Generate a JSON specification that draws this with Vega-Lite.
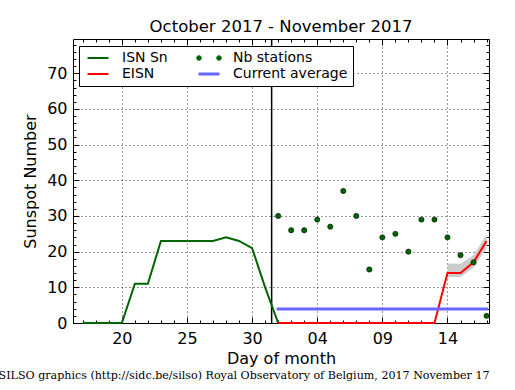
{
  "$schema": "https://vega.github.io/schema/vega-lite/v6.json",
  "width": 416,
  "height": 284,
  "autosize": {"type": "none"},
  "padding": {"left": 73, "top": 39, "right": 26, "bottom": 67},
  "background": "white",
  "title": {"text": "October 2017 - November 2017", "font": "DejaVu Sans", "fontSize": 16.5, "fontWeight": "normal", "color": "black", "offset": 2.5},
  "config": {
    "view": {"stroke": "black", "strokeWidth": 1},
    "axis": {"labelFont": "DejaVu Sans", "titleFont": "DejaVu Sans", "labelColor": "black", "titleColor": "black", "labelFontSize": 16, "titleFontSize": 16, "titleFontWeight": "normal", "domain": false, "tickColor": "black", "tickWidth": 1, "gridColor": "black", "gridDash": [1, 3], "gridOpacity": 1, "gridWidth": 0.8}
  },
  "datasets": {
    "isn": [
      {"date": "2017-10-17", "series": "ISN Sn", "value": 0},
      {"date": "2017-10-18", "series": "ISN Sn", "value": 0},
      {"date": "2017-10-19", "series": "ISN Sn", "value": 0},
      {"date": "2017-10-20", "series": "ISN Sn", "value": 0},
      {"date": "2017-10-21", "series": "ISN Sn", "value": 11},
      {"date": "2017-10-22", "series": "ISN Sn", "value": 11},
      {"date": "2017-10-23", "series": "ISN Sn", "value": 23},
      {"date": "2017-10-24", "series": "ISN Sn", "value": 23},
      {"date": "2017-10-25", "series": "ISN Sn", "value": 23},
      {"date": "2017-10-26", "series": "ISN Sn", "value": 23},
      {"date": "2017-10-27", "series": "ISN Sn", "value": 23},
      {"date": "2017-10-28", "series": "ISN Sn", "value": 24},
      {"date": "2017-10-29", "series": "ISN Sn", "value": 23},
      {"date": "2017-10-30", "series": "ISN Sn", "value": 21},
      {"date": "2017-10-31", "series": "ISN Sn", "value": 10},
      {"date": "2017-11-01", "series": "ISN Sn", "value": 0}
    ],
    "eisn": [
      {"date": "2017-11-01", "series": "EISN", "value": 0},
      {"date": "2017-11-02", "series": "EISN", "value": 0},
      {"date": "2017-11-03", "series": "EISN", "value": 0},
      {"date": "2017-11-04", "series": "EISN", "value": 0},
      {"date": "2017-11-05", "series": "EISN", "value": 0},
      {"date": "2017-11-06", "series": "EISN", "value": 0},
      {"date": "2017-11-07", "series": "EISN", "value": 0},
      {"date": "2017-11-08", "series": "EISN", "value": 0},
      {"date": "2017-11-09", "series": "EISN", "value": 0},
      {"date": "2017-11-10", "series": "EISN", "value": 0},
      {"date": "2017-11-11", "series": "EISN", "value": 0},
      {"date": "2017-11-12", "series": "EISN", "value": 0},
      {"date": "2017-11-13", "series": "EISN", "value": 0},
      {"date": "2017-11-14", "series": "EISN", "value": 14},
      {"date": "2017-11-15", "series": "EISN", "value": 14},
      {"date": "2017-11-16", "series": "EISN", "value": 17},
      {"date": "2017-11-17", "series": "EISN", "value": 23}
    ],
    "band": [
      {"date": "2017-11-14", "low": 12.9, "high": 16.7},
      {"date": "2017-11-15", "low": 12.9, "high": 16.6},
      {"date": "2017-11-16", "low": 15.5, "high": 19.0},
      {"date": "2017-11-17", "low": 20.9, "high": 24.8}
    ],
    "stations": [
      {"date": "2017-11-01", "series": "Nb stations", "value": 30},
      {"date": "2017-11-02", "series": "Nb stations", "value": 26},
      {"date": "2017-11-03", "series": "Nb stations", "value": 26},
      {"date": "2017-11-04", "series": "Nb stations", "value": 29},
      {"date": "2017-11-05", "series": "Nb stations", "value": 27},
      {"date": "2017-11-06", "series": "Nb stations", "value": 37},
      {"date": "2017-11-07", "series": "Nb stations", "value": 30},
      {"date": "2017-11-08", "series": "Nb stations", "value": 15},
      {"date": "2017-11-09", "series": "Nb stations", "value": 24},
      {"date": "2017-11-10", "series": "Nb stations", "value": 25},
      {"date": "2017-11-11", "series": "Nb stations", "value": 20},
      {"date": "2017-11-12", "series": "Nb stations", "value": 29},
      {"date": "2017-11-13", "series": "Nb stations", "value": 29},
      {"date": "2017-11-14", "series": "Nb stations", "value": 24},
      {"date": "2017-11-15", "series": "Nb stations", "value": 19},
      {"date": "2017-11-16", "series": "Nb stations", "value": 17},
      {"date": "2017-11-17", "series": "Nb stations", "value": 2}
    ],
    "avg": [
      {"date": "2017-11-01", "series": "Current average", "value": 3.9},
      {"date": "2017-11-17", "series": "Current average", "value": 3.9}
    ],
    "marker": [
      {"date": "2017-10-31T12:00:00Z"}
    ]
  },
  "layer": [
    {
      "data": {"name": "marker"},
      "mark": {"type": "rule", "color": "black", "strokeWidth": 1.5},
      "encoding": {
        "x": {"field": "date", "type": "temporal", "scale": {"type": "utc", "domain": [{"year": 2017, "month": 10, "date": 16, "hours": 6, "utc": true}, {"year": 2017, "month": 11, "date": 17, "hours": 4, "minutes": 30, "utc": true}]}, "axis": null}
      }
    },
    {
      "data": {"name": "band"},
      "mark": {"type": "area", "color": "#cccccc", "opacity": 1},
      "encoding": {
        "x": {"field": "date", "type": "temporal", "scale": {"type": "utc", "domain": [{"year": 2017, "month": 10, "date": 16, "hours": 6, "utc": true}, {"year": 2017, "month": 11, "date": 17, "hours": 4, "minutes": 30, "utc": true}]},
          "axis": {"orient": "bottom", "title": "Day of month", "format": "%d", "grid": true, "tickSize": -6, "labelPadding": 13, "titleY": 40, "titleBaseline": "alphabetic",
            "values": [{"year": 2017, "month": 10, "date": 20, "utc": true}, {"year": 2017, "month": 10, "date": 25, "utc": true}, {"year": 2017, "month": 10, "date": 30, "utc": true}, {"year": 2017, "month": 11, "date": 4, "utc": true}, {"year": 2017, "month": 11, "date": 9, "utc": true}, {"year": 2017, "month": 11, "date": 14, "utc": true}]}},
        "y": {"field": "low", "type": "quantitative", "scale": {"domain": [0, 79.6], "nice": false, "zero": false},
          "axis": {"orient": "left", "title": "Sunspot Number", "grid": true, "tickSize": -6, "labelPadding": 12, "values": [0, 10, 20, 30, 40, 50, 60, 70], "titleX": -38, "titleY": 142, "titleBaseline": "alphabetic", "titleAlign": "center", "titleAngle": -90}},
        "y2": {"field": "high"}
      }
    },
    {
      "data": {"name": "isn"},
      "mark": {"type": "line", "strokeWidth": 2},
      "encoding": {
        "x": {"field": "date", "type": "temporal", "scale": {"type": "utc", "domain": [{"year": 2017, "month": 10, "date": 16, "hours": 6, "utc": true}, {"year": 2017, "month": 11, "date": 17, "hours": 4, "minutes": 30, "utc": true}]},
          "axis": {"orient": "bottom", "title": null, "labels": false, "grid": false, "tickSize": -3, "tickCount": {"interval": "day", "step": 1}}},
        "y": {"field": "value", "type": "quantitative", "scale": {"domain": [0, 79.6], "nice": false, "zero": false},
          "axis": {"orient": "left", "title": null, "labels": false, "grid": false, "tickSize": -3, "values": [0, 2, 4, 6, 8, 10, 12, 14, 16, 18, 20, 22, 24, 26, 28, 30, 32, 34, 36, 38, 40, 42, 44, 46, 48, 50, 52, 54, 56, 58, 60, 62, 64, 66, 68, 70, 72, 74, 76, 78]}},
        "color": {"field": "series", "type": "nominal",
          "scale": {"domain": ["ISN Sn", "EISN", "Nb stations", "Current average"], "range": ["#006400", "#ff0000", "#006400", "#6666ff"]},
          "legend": {"orient": "none", "legendX": 6, "legendY": 7, "columns": 2, "title": null, "labelFont": "DejaVu Sans", "labelFontSize": 14, "labelColor": "black", "strokeColor": "black", "fillColor": "white", "padding": 5, "cornerRadius": 0, "columnPadding": 24, "rowPadding": 2, "labelOffset": 17, "symbolOffset": 7, "symbolSize": 225,
            "encode": {"symbols": {"update": {
              "shape": {"signal": "datum.value === 'Nb stations' ? 'M-1.667,0 A0.333,0.333 0 1,0 -1,0 A0.333,0.333 0 1,0 -1.667,0 Z M1,0 A0.333,0.333 0 1,0 1.667,0 A0.333,0.333 0 1,0 1,0 Z' : 'M-1.4,0 L1.4,0'"},
              "fill": {"signal": "datum.value === 'Nb stations' ? '#006400' : 'transparent'"},
              "stroke": {"signal": "datum.value === 'Nb stations' ? 'black' : datum.value === 'EISN' ? '#ff0000' : datum.value === 'Current average' ? '#6666ff' : '#006400'"},
              "strokeWidth": {"signal": "datum.value === 'Nb stations' ? 0.5 : datum.value === 'Current average' ? 3 : 2"},
              "size": {"value": 225},
              "opacity": {"value": 1}
            }}}}
        }
      }
    },
    {
      "data": {"name": "eisn"},
      "mark": {"type": "line", "strokeWidth": 2},
      "encoding": {
        "x": {"field": "date", "type": "temporal", "scale": {"type": "utc", "domain": [{"year": 2017, "month": 10, "date": 16, "hours": 6, "utc": true}, {"year": 2017, "month": 11, "date": 17, "hours": 4, "minutes": 30, "utc": true}]},
          "axis": {"orient": "top", "title": null, "labels": false, "grid": false, "tickSize": -6,
            "values": [{"year": 2017, "month": 10, "date": 20, "utc": true}, {"year": 2017, "month": 10, "date": 25, "utc": true}, {"year": 2017, "month": 10, "date": 30, "utc": true}, {"year": 2017, "month": 11, "date": 4, "utc": true}, {"year": 2017, "month": 11, "date": 9, "utc": true}, {"year": 2017, "month": 11, "date": 14, "utc": true}]}},
        "y": {"field": "value", "type": "quantitative", "scale": {"domain": [0, 79.6], "nice": false, "zero": false},
          "axis": {"orient": "right", "title": null, "labels": false, "grid": false, "tickSize": -6, "values": [0, 10, 20, 30, 40, 50, 60, 70]}},
        "color": {"field": "series", "type": "nominal"}
      }
    },
    {
      "data": {"name": "avg"},
      "mark": {"type": "line", "strokeWidth": 3, "strokeCap": "square"},
      "encoding": {
        "x": {"field": "date", "type": "temporal", "scale": {"type": "utc", "domain": [{"year": 2017, "month": 10, "date": 16, "hours": 6, "utc": true}, {"year": 2017, "month": 11, "date": 17, "hours": 4, "minutes": 30, "utc": true}]},
          "axis": {"orient": "top", "title": null, "labels": false, "grid": false, "tickSize": -3, "tickCount": {"interval": "day", "step": 1}}},
        "y": {"field": "value", "type": "quantitative", "scale": {"domain": [0, 79.6], "nice": false, "zero": false},
          "axis": {"orient": "right", "title": null, "labels": false, "grid": false, "tickSize": -3, "values": [0, 2, 4, 6, 8, 10, 12, 14, 16, 18, 20, 22, 24, 26, 28, 30, 32, 34, 36, 38, 40, 42, 44, 46, 48, 50, 52, 54, 56, 58, 60, 62, 64, 66, 68, 70, 72, 74, 76, 78]}},
        "color": {"field": "series", "type": "nominal"}
      }
    },
    {
      "data": {"name": "stations"},
      "mark": {"type": "point", "filled": true, "size": 28, "stroke": "black", "strokeWidth": 0.5, "opacity": 1},
      "encoding": {
        "x": {"field": "date", "type": "temporal", "scale": {"type": "utc", "domain": [{"year": 2017, "month": 10, "date": 16, "hours": 6, "utc": true}, {"year": 2017, "month": 11, "date": 17, "hours": 4, "minutes": 30, "utc": true}]},
          "axis": {"orient": "bottom", "title": "SILSO graphics (http://sidc.be/silso) Royal Observatory of Belgium, 2017 November 17", "titleFont": "DejaVu Serif", "titleFontSize": 11.1, "labels": false, "ticks": false, "grid": false, "titleX": 416, "titleY": 55, "titleAlign": "right", "titleAnchor": "end", "titleBaseline": "alphabetic", "values": []}},
        "y": {"field": "value", "type": "quantitative", "scale": {"domain": [0, 79.6], "nice": false, "zero": false}, "axis": null},
        "color": {"field": "series", "type": "nominal"}
      }
    }
  ],
  "resolve": {"axis": {"x": "independent", "y": "independent"}}
}
